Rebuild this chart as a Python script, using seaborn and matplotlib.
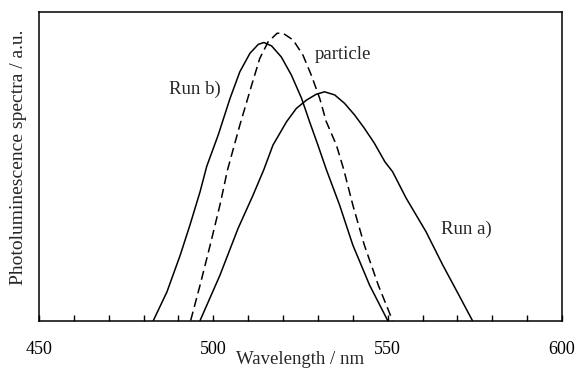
import matplotlib
matplotlib.use("Agg")
import matplotlib.pyplot as plt
import matplotlib.ticker as mticker
import seaborn as sns

# values (intensity as fraction of the frame height)
run_b_wl = [482.8, 486.7, 490.5, 493.3, 496.2, 498.1, 501.4, 504.8, 507.6, 510.5, 512.9, 514.5,
            516.7, 519.5, 522.4, 525.3, 527.6, 530.0, 532.4, 536.2, 540.0, 544.8, 550.0]
run_b_int = [0, 0.093, 0.212, 0.31, 0.418, 0.50, 0.602, 0.721, 0.807, 0.867, 0.896, 0.902,
             0.891, 0.855, 0.796, 0.721, 0.645, 0.569, 0.49, 0.375, 0.245, 0.115, 0]

particle_wl = [493.5, 496.2, 499.1, 501.9, 504.1, 507.6, 511.0, 513.3, 515.7, 518.3, 520.0,
               522.9, 525.7, 528.1, 530.5, 532.4, 535.3, 537.4, 540.0, 543.3, 547.3, 551.4]
particle_int = [0, 0.115, 0.245, 0.375, 0.49, 0.634, 0.764, 0.85, 0.904, 0.932, 0.932,
                0.91, 0.861, 0.796, 0.721, 0.645, 0.569, 0.49, 0.375, 0.245, 0.115, 0]

run_a_wl = [496.2, 501.9, 507.1, 511.4, 514.5, 517.1, 521.0, 523.8, 526.7, 529.5, 531.9, 534.8,
            537.6, 540.5, 543.3, 546.2, 549.2, 551.4, 555.3, 561.0, 565.8, 570.4, 574.3]
run_a_int = [0, 0.147, 0.299, 0.407, 0.49, 0.569, 0.645, 0.688, 0.715, 0.734, 0.742, 0.732,
             0.705, 0.667, 0.624, 0.575, 0.515, 0.483, 0.397, 0.288, 0.18, 0.083, 0]

sns.set_style("white")
plt.rcParams['font.family'] = ['Liberation Serif', 'DejaVu Serif']

fig = plt.figure(figsize=(5.77, 3.69), dpi=100)
ax = fig.add_axes([39 / 577, (369 - 320.5) / 369, (562 - 39) / 577, (320.5 - 12.3) / 369])

sns.lineplot(x=run_b_wl, y=run_b_int, color='black', linewidth=1.1, ax=ax)
sns.lineplot(x=run_a_wl, y=run_a_int, color='black', linewidth=1.1, ax=ax)
line = sns.lineplot(x=particle_wl, y=particle_int, color='black', linewidth=1.1, ax=ax).lines[-1]
line.set_dashes((6, 3.2))
for l in ax.lines:
    l.set_solid_joinstyle('round')

ax.text(494.8, 0.75, "Run b)", fontsize=13.5, ha='center', va='center')
ax.text(537.3, 0.864, "particle", fontsize=13.5, ha='center', va='center')
ax.text(572.6, 0.297, "Run a)", fontsize=13.5, ha='center', va='center')

ax.set_xlim(450, 600)
ax.set_ylim(0, 1)
ax.xaxis.set_major_locator(mticker.MultipleLocator(50))
ax.xaxis.set_minor_locator(mticker.MultipleLocator(10))
ax.tick_params(axis='x', which='both', direction='in', length=4, width=1,
               bottom=True, top=False, colors='black')
ax.tick_params(axis='x', which='major', labelsize=13, pad=15)
ax.set_yticks([])

for s in ax.spines.values():
    s.set_color('black')
    s.set_linewidth(1.1)

ax.set_xlabel("Wavelength / nm", fontsize=13.5)
ax.xaxis.set_label_coords(0.5, -0.125)
ax.xaxis.label.set_va('center')
ax.set_ylabel("Photoluminescence spectra / a.u.", fontsize=14)
ax.yaxis.set_label_coords(-0.039, 0.531)
ax.yaxis.label.set_va('center')

fig.savefig("out.png", dpi=100)
